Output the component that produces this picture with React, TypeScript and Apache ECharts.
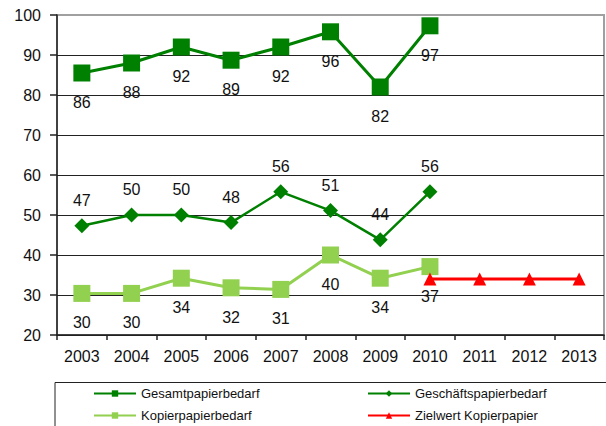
import React, { useEffect, useRef } from "react";
import * as echarts from "echarts";

const years = ["2003", "2004", "2005", "2006", "2007", "2008", "2009", "2010", "2011", "2012", "2013"];
const gesamt = [85.5, 88, 92, 88.7, 92, 95.8, 82, 97.3];
const geschaefts = [47.3, 50, 50, 48.1, 55.8, 51.1, 43.8, 55.8];
const kopier = [30.4, 30.4, 34.2, 31.8, 31.4, 40, 34.2, 37.1];
const zielwert = [null, null, null, null, null, null, null, 34, 34, 34, 34];

const DARK = "#008000";
const LIGHT = "#92D050";
const RED = "#FF0000";
const FONT = "'Liberation Sans', Arial, sans-serif";

export default function App() {
  const ref = useRef<HTMLDivElement>(null);
  useEffect(() => {
    if (!ref.current) return;
    const chart = echarts.init(ref.current, undefined, { renderer: "svg" });
    const lbl = (position: string, distance: number) => ({
      show: true,
      position,
      distance,
      color: "#111",
      fontSize: 16,
      fontFamily: FONT,
      formatter: (p: any) => String(Math.round(p.value)),
    });
    const leg = (name: string, left: number, top: number) => ({
      data: [name],
      left,
      top,
      padding: 0,
      itemWidth: 42,
      itemHeight: 8,
      textStyle: { fontSize: 13, color: "#111", fontFamily: FONT },
    });
    chart.setOption({
      animation: false,
      backgroundColor: "#fff",
      textStyle: { fontFamily: FONT },
      grid: { left: 57, top: 15, right: 2, bottom: 91, show: true, borderColor: "#a0a0a0", borderWidth: 2 },
      legend: [
        leg("Gesamtpapierbedarf", 93, 387),
        leg("Geschäftspapierbedarf", 367, 387),
        leg("Kopierpapierbedarf", 93, 409),
        leg("Zielwert Kopierpapier", 367, 409),
      ],
      graphic: [
        {
          type: "rect",
          shape: { x: 55, y: 382.5, width: 600, height: 80 },
          style: { fill: "none", stroke: "#222", lineWidth: 1 },
          silent: true,
          z: -1,
        },
      ],
      xAxis: {
        type: "category",
        data: years,
        boundaryGap: true,
        axisLine: { lineStyle: { color: "#222", width: 1.5 } },
        axisTick: { show: true, length: 5, lineStyle: { color: "#222", width: 1.5 } },
        axisLabel: { color: "#111", fontSize: 16, margin: 13, fontFamily: FONT },
      },
      yAxis: {
        type: "value",
        min: 20,
        max: 100,
        interval: 10,
        axisLine: { show: true, lineStyle: { color: "#222", width: 1.5 } },
        axisTick: { show: true, length: 7, lineStyle: { color: "#222", width: 1.5 } },
        axisLabel: { color: "#111", fontSize: 16, margin: 16, fontFamily: FONT },
        splitLine: {
          show: true,
          lineStyle: {
            color: ["#222", "#222", "#222", "#222", "#222", "#222", "#222", "#222", "#a0a0a0"],
            width: 1.2,
          },
        },
      },
      series: [
        {
          name: "Gesamtpapierbedarf",
          type: "line",
          data: gesamt,
          symbol: "rect",
          symbolSize: 17,
          itemStyle: { color: DARK },
          lineStyle: { color: DARK, width: 3 },
          label: lbl("bottom", 13),
          z: 3,
        },
        {
          name: "Geschäftspapierbedarf",
          type: "line",
          data: geschaefts,
          symbol: "diamond",
          symbolSize: 15,
          itemStyle: { color: DARK },
          lineStyle: { color: DARK, width: 2.5 },
          label: lbl("top", 10),
          z: 3,
        },
        {
          name: "Kopierpapierbedarf",
          type: "line",
          data: kopier,
          symbol: "rect",
          symbolSize: 17,
          itemStyle: { color: LIGHT },
          lineStyle: { color: LIGHT, width: 3 },
          label: lbl("bottom", 13),
          z: 3,
        },
        {
          name: "Zielwert Kopierpapier",
          type: "line",
          data: zielwert,
          symbol: "triangle",
          symbolSize: 13,
          itemStyle: { color: RED },
          lineStyle: { color: RED, width: 3 },
          label: { show: false },
          z: 4,
        },
      ],
    });
    return () => chart.dispose();
  }, []);
  return <div ref={ref} style={{ width: 606, height: 426, position: "absolute", left: 0, top: 0 }} />;
}
